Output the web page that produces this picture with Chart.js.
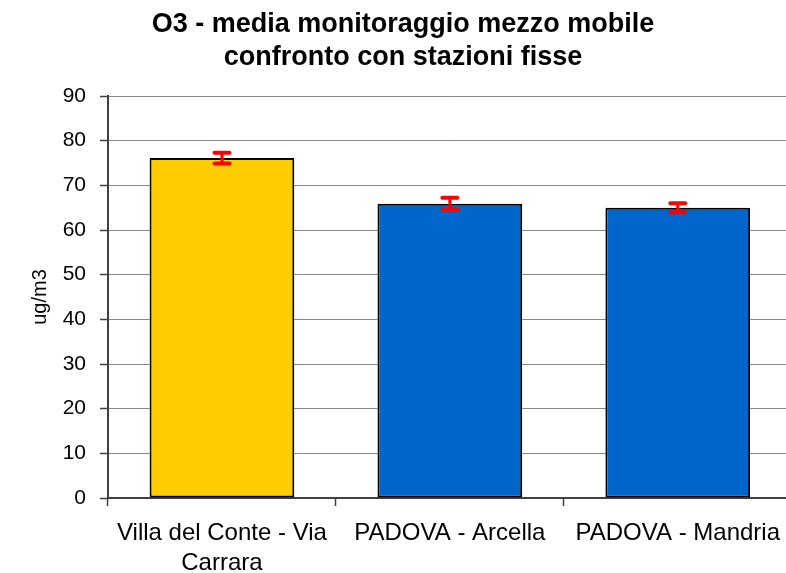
<!DOCTYPE html>
<html>
<head>
<meta charset="utf-8">
<script src="https://cdn.jsdelivr.net/npm/chart.js@4/dist/chart.umd.min.js"></script>
<style>
  body { margin: 0; background: #fff; overflow: hidden; }
</style>
</head>
<body>
<!-- a few pixels wider than the window: the original plot runs past the right edge -->
<canvas id="o3Chart" width="792" height="573"></canvas>
<script>
// values (ug/m3)
const stations = [['Villa del Conte - Via', 'Carrara'], 'PADOVA - Arcella', 'PADOVA - Mandria'];
const means = [76.1, 65.9, 65.0];
const errors = [1.2, 1.3, 1.0];
const barColors = ['#FFCC00', '#0066CC', '#0066CC'];
const titleLines = ['O3 - media monitoraggio mezzo mobile', 'confronto con stazioni fisse'];

// red error bars, positioned with the chart's own scales
const errorBars = {
    id: 'errorBars',
    afterDatasetsDraw(chart) {
        const ctx = chart.ctx;
        const yScale = chart.scales.y;
        const meta = chart.getDatasetMeta(0);
        ctx.save();
        ctx.strokeStyle = '#FF0000';
        meta.data.forEach((bar, i) => {
            const top = yScale.getPixelForValue(means[i] + errors[i]);
            const bottom = yScale.getPixelForValue(means[i] - errors[i]);
            ctx.lineWidth = 3;
            ctx.beginPath();
            ctx.moveTo(bar.x, top);
            ctx.lineTo(bar.x, bottom);
            ctx.stroke();
            ctx.lineWidth = 4;
            ctx.lineCap = 'round';
            ctx.beginPath();
            ctx.moveTo(bar.x - 7.5, top);
            ctx.lineTo(bar.x + 7.5, top);
            ctx.moveTo(bar.x - 7.5, bottom);
            ctx.lineTo(bar.x + 7.5, bottom);
            ctx.stroke();
        });
        ctx.restore();
    }
};

// two-line title, centred like the original
const chartTitle = {
    id: 'chartTitle',
    afterDraw(chart) {
        const ctx = chart.ctx;
        ctx.save();
        ctx.fillStyle = '#000';
        ctx.font = 'bold 27px "Liberation Sans", Arial, sans-serif';
        ctx.textAlign = 'center';
        ctx.textBaseline = 'alphabetic';
        ctx.fillText(titleLines[0], 403, 32);
        ctx.fillText(titleLines[1], 403, 65);
        ctx.restore();
    }
};

const ctx = document.getElementById('o3Chart').getContext('2d');
const o3Chart = new Chart(ctx, {
    type: 'bar',
    data: {
        labels: stations,
        datasets: [{
            data: means,
            backgroundColor: barColors,
            borderColor: '#000',
            borderWidth: 2,
            borderSkipped: false,
            barPercentage: 0.635,
            categoryPercentage: 1
        }]
    },
    options: {
        responsive: false,
        animation: false,
        layout: { padding: { top: 96, left: 0, right: 0, bottom: 0 } },
        plugins: {
            legend: { display: false },
            title: { display: false },
            tooltip: { enabled: false }
        },
        scales: {
            x: {
                afterFit: (scale) => { scale.height = 75; },
                grid: {
                    drawOnChartArea: false,
                    drawTicks: true,
                    tickLength: 8,
                    tickColor: '#404040',
                    tickWidth: 1.5
                },
                border: { color: '#404040', width: 2 },
                ticks: {
                    color: '#000',
                    padding: 12,
                    maxRotation: 0,
                    autoSkip: false,
                    font: { family: '"Liberation Sans", Arial, sans-serif', size: 24, lineHeight: 1.25 }
                }
            },
            y: {
                min: 0,
                max: 90,
                afterFit: (scale) => { scale.width = 108; },
                grid: {
                    color: '#888888',
                    lineWidth: 1,
                    tickLength: 8,
                    tickColor: '#404040',
                    tickWidth: 1.5
                },
                border: { color: '#404040', width: 2 },
                ticks: {
                    stepSize: 10,
                    color: '#000',
                    padding: 14,
                    font: { family: '"Liberation Sans", Arial, sans-serif', size: 21 }
                },
                title: {
                    display: true,
                    text: 'ug/m3',
                    color: '#000',
                    padding: { top: 28, bottom: 0 },
                    font: { family: '"Liberation Sans", Arial, sans-serif', size: 20, lineHeight: 1.2 }
                }
            }
        }
    },
    plugins: [errorBars, chartTitle]
});
</script>
</body>
</html>
